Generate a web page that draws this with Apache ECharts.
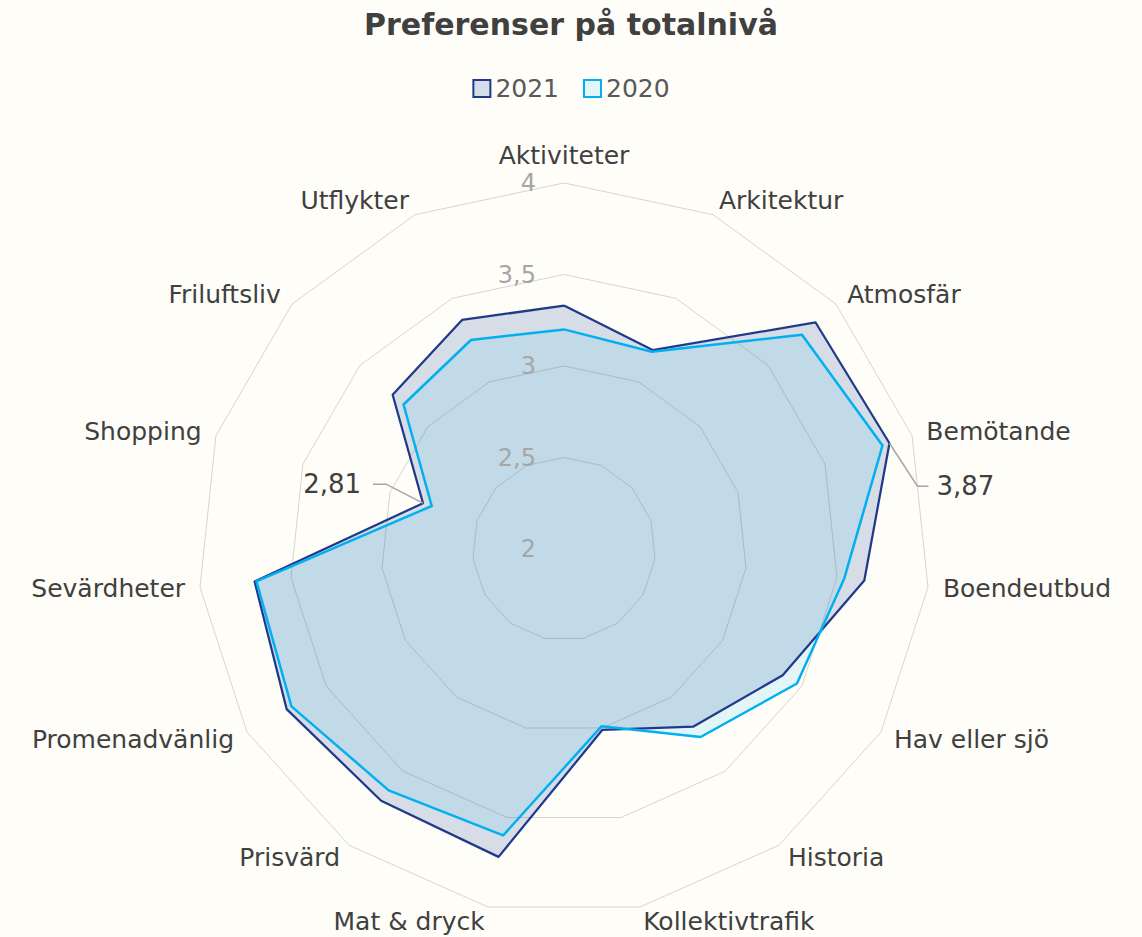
<!DOCTYPE html>
<html>
<head>
<meta charset="utf-8">
<title>Preferenser på totalnivå</title>
<script src="https://cdn.jsdelivr.net/npm/echarts@6/dist/echarts.min.js"></script>
<style>
  html, body { margin: 0; padding: 0; background: #FFFDF8; }
  #chart { width: 1142px; height: 937px; }
</style>
</head>
<body>
<div id="chart"></div>
<script>
// Survey categories, listed clockwise from the top
const categories = ['Aktiviteter', 'Arkitektur', 'Atmosfär', 'Bemötande', 'Boendeutbud',
  'Hav eller sjö', 'Historia', 'Kollektivtrafik', 'Mat & dryck', 'Prisvärd',
  'Promenadvänlig', 'Sevärdheter', 'Shopping', 'Friluftsliv', 'Utflykter'];

// Average score per category
const values2021 = [3.33, 3.19, 3.85, 3.87, 3.65, 3.38, 3.20, 3.01, 3.72, 3.70, 3.75, 3.70, 2.81, 3.26, 3.37];
const values2020 = [3.20, 3.18, 3.75, 3.83, 3.54, 3.47, 3.27, 2.99, 3.60, 3.63, 3.72, 3.69, 2.76, 3.18, 3.25];

const seriesNames = ['2021', '2020'];

// Radial scale
const axisMin = 2;
const axisMax = 4;
const axisSplits = 4;

// 2021 values written out beside their points
const labelled2021 = ['Bemötande', 'Shopping'];

const FONT = '"DejaVu Sans", "Noto Sans", sans-serif';
const fmt = v => String(+v.toFixed(2)).replace('.', ',');

// ECharts lays radar axes out counter-clockwise; reorder so the list reads clockwise
const order = categories.map((_, i) => (i === 0 ? 0 : categories.length - i));
const byAxis = arr => order.map(i => arr[i]);

const colors = {
  line2021: '#1F3A8A', fill2021: '#D7DDE6',
  line2020: '#00B0F0', fill2020: 'rgba(75,200,248,0.15)', icon2020: '#E4F5F8'
};

const chart = echarts.init(document.getElementById('chart'), null, { renderer: 'svg' });

const option = {
  backgroundColor: '#FFFDF8',
  animation: false,
  title: {
    text: 'Preferenser på totalnivå',
    left: 'center',
    top: 4,
    textStyle: { fontFamily: FONT, fontSize: 30, fontWeight: 'bold', color: '#404040' }
  },
  legend: {
    top: 71,
    left: 'center',
    itemWidth: 17,
    itemHeight: 17,
    itemGap: 24,
    selectedMode: false,
    textStyle: { fontFamily: FONT, fontSize: 25, color: '#595959' },
    data: [
      { name: seriesNames[0], icon: 'rect', itemStyle: { color: colors.fill2021, borderColor: colors.line2021, borderWidth: 2 } },
      { name: seriesNames[1], icon: 'rect', itemStyle: { color: colors.icon2020, borderColor: colors.line2020, borderWidth: 2 } }
    ]
  },
  radar: {
    center: [564, 549],
    radius: 366,
    startAngle: 90,
    splitNumber: axisSplits,
    shape: 'polygon',
    z: 3,
    nameGap: 15,
    indicator: byAxis(categories).map((name, i) => {
      const ind = { name: name, min: axisMin, max: axisMax };
      if (i === 0) ind.axisLabel = { show: true };
      return ind;
    }),
    axisName: { fontFamily: FONT, fontSize: 25, color: '#404040' },
    axisLine: { show: false },
    axisTick: { show: false },
    axisLabel: {
      show: false,
      margin: 28,
      fontFamily: FONT,
      fontSize: 24,
      color: '#A6A6A6',
      formatter: v => fmt(v)
    },
    splitLine: { lineStyle: { color: 'rgba(90,90,90,0.25)', width: 1 } },
    splitArea: { show: false }
  },
  series: [
    {
      // filled areas, below the grid rings
      type: 'radar',
      z: 2,
      symbol: 'none',
      silent: true,
      data: [
        { name: seriesNames[0], value: byAxis(values2021), lineStyle: { width: 0 }, areaStyle: { color: colors.fill2021, opacity: 1 } },
        { name: seriesNames[1], value: byAxis(values2020), lineStyle: { width: 0 }, areaStyle: { color: colors.fill2020, opacity: 1 } }
      ]
    },
    {
      // outlines, above the grid rings
      type: 'radar',
      z: 4,
      symbol: 'none',
      data: [
        { name: seriesNames[0], value: byAxis(values2021), lineStyle: { color: colors.line2021, width: 2.25 } },
        { name: seriesNames[1], value: byAxis(values2020), lineStyle: { color: colors.line2020, width: 2.5 } }
      ]
    }
  ]
};

chart.setOption(option);

// Value callouts with a bent leader line, anchored on the plotted 2021 point
const calloutShape = {
  'Bemötande': { bend: [28, 43], tail: 11, gap: 8 },
  'Shopping': { bend: [-37, -19], tail: -13, gap: 12 }
};
const radarCS = chart.getModel().getComponent('radar').coordinateSystem;
const graphics = [];
labelled2021.forEach(cat => {
  const idx = categories.indexOf(cat);
  const p = radarCS.dataToPoint(values2021[idx], order.indexOf(idx));
  const s = calloutShape[cat];
  const knee = [p[0] + s.bend[0], p[1] + s.bend[1]];
  const end = [knee[0] + s.tail, knee[1]];
  const right = s.tail > 0;
  graphics.push({
    type: 'polyline',
    z: 20,
    shape: { points: [p, knee, end] },
    style: { stroke: '#A6A6A6', lineWidth: 1.5, fill: null }
  });
  graphics.push({
    type: 'text',
    z: 20,
    x: end[0] + (right ? s.gap : -s.gap),
    y: end[1],
    style: {
      text: fmt(values2021[idx]),
      font: '26px ' + FONT,
      fill: '#404040',
      align: right ? 'left' : 'right',
      verticalAlign: 'middle',
      textAlign: right ? 'left' : 'right',
      textVerticalAlign: 'middle'
    }
  });
});
chart.setOption({ graphic: graphics });
</script>
</body>
</html>
